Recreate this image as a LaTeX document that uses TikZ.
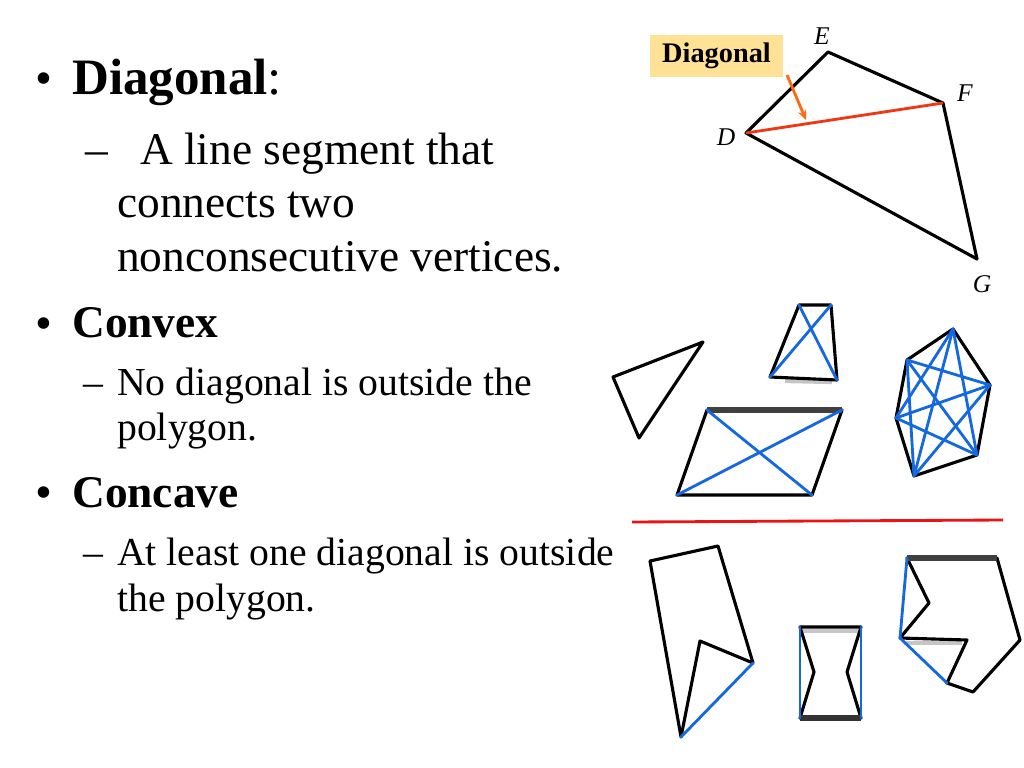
\documentclass[tikz,border=0pt]{standalone}
\usepackage{fontspec}
\setmainfont{Liberation Serif}
\usetikzlibrary{positioning,arrows.meta}

\definecolor{diagblue}{RGB}{20,105,225}
\definecolor{labelfill}{RGB}{255,226,150}
\definecolor{arroworange}{RGB}{255,105,20}
\definecolor{diagred}{RGB}{240,55,20}
\definecolor{rulered}{RGB}{235,20,20}

\tikzset{
  bullet/.style={anchor=base west, inner sep=0pt, font=\fontsize{34}{40}\selectfont},
  heading/.style={anchor=base west, inner sep=0pt, font=\fontsize{36}{43}\selectfont\bfseries},
  subhead/.style={anchor=base west, inner sep=0pt, font=\fontsize{32}{38}\selectfont\bfseries},
  bigtext/.style={anchor=base west, inner sep=0pt, font=\fontsize{32}{38}\selectfont},
  smalltext/.style={anchor=base west, inner sep=0pt, font=\fontsize{28}{34}\selectfont},
  vertex/.style={inner sep=1pt, font=\fontsize{18}{21}\selectfont\itshape},
  edge/.style={line width=2.2pt, line join=round, line cap=round},
  diag/.style={line width=2pt, diagblue, line cap=round},
  shade/.style={line width=3pt, gray!45}
}

\begin{document}
\begin{tikzpicture}[x=0.0248cm, y=-0.0248cm]

    % Fix the page to the slide size
    \useasboundingbox (0,0) rectangle (1024,768);

    % Text on the left
    \node[bullet] (bulA) at (35,95) {•};
    \node[heading] (diagT) at (72,95) {Diagonal\mdseries:};
    \node[bigtext] (dashA) at (85,164) {–};
    \node[bigtext] (lineA) at (140,164) {A line segment that};
    \node[bigtext] (lineB) at (117,217) {connects two};
    \node[bigtext] (lineC) at (117,271) {nonconsecutive vertices.};

    \node[bullet] (bulB) at (35,339) {•};
    \node[subhead] (convT) at (72,337) {Convex};
    \node[smalltext] (dashB) at (83,395) {–};
    \node[smalltext] (lineD) at (117,395) {No diagonal is outside the};
    \node[smalltext] (lineE) at (117,440) {polygon.};

    \node[bullet] (bulC) at (35,508) {•};
    \node[subhead] (concT) at (72,507) {Concave};
    \node[smalltext] (dashC) at (83,565) {–};
    \node[smalltext] (lineF) at (117,565) {At least one diagonal is outside};
    \node[smalltext] (lineG) at (117,611) {the polygon.};

    % Quadrilateral DEFG with its diagonal
    \coordinate (D) at (746,133);
    \coordinate (E) at (828,52);
    \coordinate (F) at (943,103);
    \coordinate (G) at (977,259);
    \draw[edge] (D) -- (E) -- (F) -- (G) -- cycle;
    \draw[line width=2pt, diagred] (D) -- (F);
    \node[vertex] (labD) at (726,137) {D};
    \node[vertex] (labE) at (822,36) {E};
    \node[vertex] (labF) at (965,93) {F};
    \node[vertex] (labG) at (982,284) {G};

    % Callout pointing at the diagonal
    \node[fill=labelfill, minimum width=93.5pt, minimum height=29.5pt, inner sep=0pt,
          font=\fontsize{20}{24}\selectfont\bfseries] (callout) at (716.5,56) {Diagonal};
    \coordinate (tip) at (806,120);
    \draw[line width=2pt, arroworange, -{Stealth[length=7pt,width=6pt]}] (787,75) -- (tip);

    % Convex polygons
    \coordinate (t1) at (613,377);
    \coordinate (t2) at (703,342);
    \coordinate (t3) at (639,438);
    \draw[edge] (t1) -- (t2) -- (t3) -- cycle;

    \coordinate (q1) at (799,305);
    \coordinate (q2) at (831,305);
    \coordinate (q3) at (837,380);
    \coordinate (q4) at (770,377);
    \draw[shade] (785,381) -- (832,382);
    \draw[edge] (q1) -- (q2) -- (q3) -- (q4) -- cycle;
    \draw[diag] (q1) -- (q3);
    \draw[diag] (q2) -- (q4);

    \coordinate (p1) at (707,410);
    \coordinate (p2) at (842,410);
    \coordinate (p3) at (812,495);
    \coordinate (p4) at (677,495);
    \draw[edge] (p1) -- (p2) -- (p3) -- (p4) -- cycle;
    \draw[line width=4pt, black!75] (p1) -- (p2);
    \draw[diag] (p1) -- (p3);
    \draw[diag] (p2) -- (p4);

    \coordinate (h1) at (953,329);
    \coordinate (h2) at (990,385);
    \coordinate (h3) at (977,455);
    \coordinate (h4) at (914,476);
    \coordinate (h5) at (896,418);
    \coordinate (h6) at (907,360);
    \draw[edge] (h1) -- (h2) -- (h3) -- (h4) -- (h5) -- (h6) -- cycle;
    \foreach \a/\b in {1/3,1/4,1/5,2/4,2/5,2/6,3/5,3/6,4/6}
        \draw[diag] (h\a) -- (h\b);

    % Line between convex and concave
    \draw[line width=2pt, rulered] (632,522) -- (1003,520);

    % Concave polygons
    \coordinate (k1) at (650,561);
    \coordinate (k2) at (718,546);
    \coordinate (k3) at (753,663);
    \coordinate (k4) at (700,641);
    \coordinate (k5) at (681,737);
    \draw[edge] (k1) -- (k2) -- (k3) -- (k4) -- (k5) -- cycle;
    \draw[diag] (k5) -- (k3);

    \coordinate (g1) at (800,627);
    \coordinate (g2) at (861,627);
    \coordinate (g3) at (847,672);
    \coordinate (g4) at (861,718);
    \coordinate (g5) at (800,718);
    \coordinate (g6) at (814,672);
    \draw[shade] (803,631) -- (858,631);
    \draw[edge] (g1) -- (g2) -- (g3) -- (g4) -- (g5) -- (g6) -- cycle;
    \draw[line width=4pt, black!80] (g4) -- (g5);
    \draw[diag] (g1) -- (g5);
    \draw[diag] (g2) -- (g4);

    \coordinate (c1) at (907,558);
    \coordinate (c2) at (997,558);
    \coordinate (c3) at (1020,640);
    \coordinate (c4) at (973,692);
    \coordinate (c5) at (947,683);
    \coordinate (c6) at (967,640);
    \coordinate (c7) at (900,638);
    \coordinate (c8) at (929,603);
    \draw[shade] (904,643) -- (962,643);
    \draw[edge] (c1) -- (c2) -- (c3) -- (c4) -- (c5) -- (c6) -- (c7) -- (c8) -- cycle;
    \draw[line width=4pt, black!75] (c1) -- (c2);
    \draw[diag] (c1) -- (c7);
    \draw[diag] (c7) -- (c5);

\end{tikzpicture}
\end{document}
